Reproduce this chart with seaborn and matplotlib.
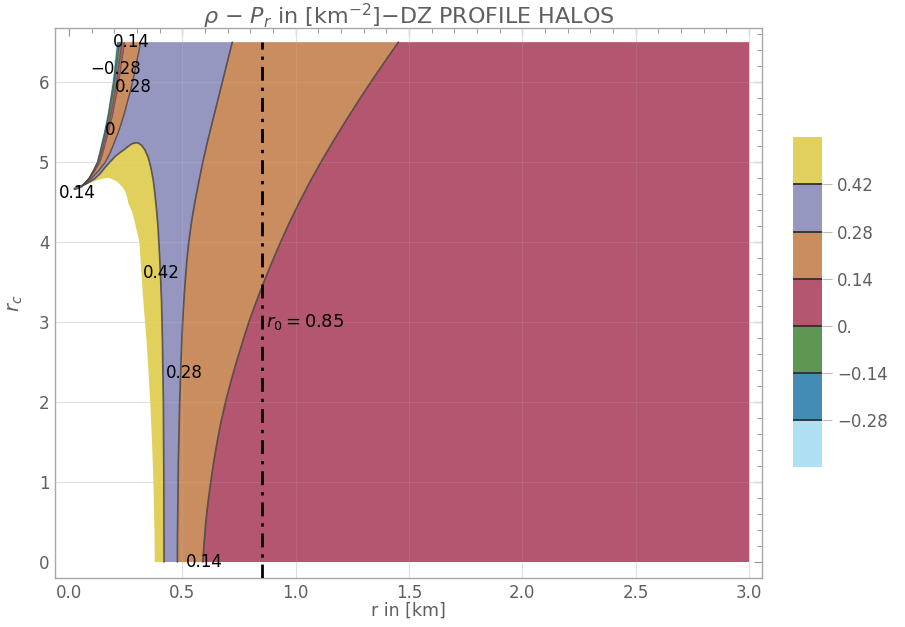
import matplotlib
matplotlib.use("Agg")
import matplotlib as mpl
from matplotlib import pyplot as plt
from matplotlib.colors import ListedColormap, BoundaryNorm
import seaborn as sns

# contour levels and band colours (low -> high)
levels = [-0.42, -0.28, -0.14, 0.0, 0.14, 0.28, 0.42, 0.56]
band_colors = ["#AFDFF3", "#438CB5", "#5E9653", "#B4566F", "#C98D60", "#9597C1", "#E1D05B"]
cbar_ticks = [-0.28, -0.14, 0.0, 0.14, 0.28, 0.42]
cbar_labels = ["\u22120.28", "\u22120.14", "0.", "0.14", "0.28", "0.42"]
r0 = 0.85

# main contours: r (km) against r_c
rc_main = [0, 0.25, 0.5, 0.75, 1.0, 1.25, 1.5, 1.75, 2.0, 2.25, 2.5, 2.75, 3.0, 3.25,
           3.5, 3.75, 4.0, 4.25, 4.5, 4.75, 5.0, 5.25, 5.5, 5.75, 6.0, 6.25, 6.5]
r_c014 = [0.59, 0.596, 0.603, 0.613, 0.625, 0.638, 0.653, 0.67, 0.69, 0.713, 0.738, 0.765, 0.793, 0.825,
          0.859, 0.895, 0.933, 0.973, 1.016, 1.062, 1.111, 1.163, 1.217, 1.273, 1.331, 1.391, 1.453]
r_c028 = [0.478, 0.478, 0.479, 0.48, 0.481, 0.482, 0.484, 0.486, 0.488, 0.491, 0.494, 0.497, 0.501, 0.506,
          0.512, 0.519, 0.528, 0.54, 0.555, 0.572, 0.59, 0.61, 0.632, 0.654, 0.676, 0.698, 0.72]

# 0.42 contour: up the right side to the tip, then down to the pinch point
c042_r = [0.419, 0.418, 0.416, 0.412, 0.408, 0.403, 0.398, 0.392, 0.386, 0.379, 0.371, 0.361,
          0.349, 0.335, 0.32, 0.305, 0.292, 0.278, 0.262, 0.245, 0.225, 0.203, 0.18, 0.158,
          0.135, 0.112, 0.09, 0.07, 0.055]
c042_rc = [0, 1, 2, 2.75, 3.25, 3.6, 3.9, 4.2, 4.4, 4.6, 4.78, 4.93,
           5.06, 5.15, 5.21, 5.24, 5.24, 5.23, 5.2, 5.16, 5.12, 5.07, 5.0, 4.93,
           4.85, 4.79, 4.75, 4.72, 4.70]

# white edge left of the yellow band (pinch point -> bottom)
edge_low_r = [0.055, 0.08, 0.10, 0.13, 0.16, 0.18, 0.195, 0.21, 0.225, 0.24, 0.25, 0.257, 0.262,
              0.27, 0.278, 0.284, 0.292, 0.298, 0.305, 0.31, 0.316, 0.322, 0.328, 0.335, 0.342,
              0.348, 0.353, 0.358, 0.362, 0.366, 0.369, 0.372, 0.375, 0.377, 0.378]
edge_low_rc = [4.70, 4.73, 4.75, 4.78, 4.80, 4.80, 4.78, 4.76, 4.72, 4.67, 4.62, 4.55, 4.48,
               4.43, 4.38, 4.32, 4.22, 4.15, 4.07, 4.0, 3.75, 3.5, 3.25, 3.0, 2.75,
               2.5, 2.25, 2.0, 1.75, 1.5, 1.25, 1.0, 0.6, 0.3, 0]

# thin bands in the top-left corner
rc_top = [4.70, 4.75, 4.8, 4.9, 5.0, 5.12, 5.25, 5.37, 5.5, 5.62, 5.75, 5.87, 6.0, 6.12, 6.25, 6.37, 6.5]
r_edge_top = [0.055, 0.072, 0.086, 0.106, 0.122, 0.133, 0.143, 0.153, 0.162, 0.17, 0.177, 0.184,
              0.19, 0.195, 0.20, 0.205, 0.21]
r_m028_top = [0.055, 0.072, 0.087, 0.107, 0.124, 0.135, 0.146, 0.156, 0.166, 0.174, 0.181, 0.188,
              0.195, 0.20, 0.205, 0.21, 0.214]
r_m014_top = [0.055, 0.073, 0.088, 0.109, 0.127, 0.138, 0.149, 0.16, 0.170, 0.178, 0.186, 0.193,
              0.200, 0.206, 0.211, 0.217, 0.222]
r_000_top = [0.055, 0.074, 0.090, 0.112, 0.131, 0.143, 0.155, 0.166, 0.177, 0.186, 0.194, 0.202,
             0.209, 0.215, 0.221, 0.227, 0.232]
r_014_top = [0.055, 0.075, 0.092, 0.116, 0.137, 0.15, 0.162, 0.174, 0.185, 0.195, 0.203, 0.212,
             0.220, 0.226, 0.232, 0.239, 0.245]
r_028_top = [0.055, 0.08, 0.10, 0.132, 0.16, 0.182, 0.20, 0.217, 0.232, 0.245, 0.257, 0.269,
             0.28, 0.289, 0.298, 0.307, 0.315]
pinch_r = [0.025, 0.055]
pinch_rc = [4.665, 4.70]

# contour labels
lab_text = ["0.14", "\u22120.28", "0.28", "0", "0.14", "0.42", "0.28", "0.14"]
lab_r = [0.274, 0.207, 0.282, 0.181, 0.035, 0.406, 0.507, 0.596]
lab_rc = [6.5, 6.16, 5.94, 5.4, 4.62, 3.61, 2.36, 0.0]

sns.set_theme(style="white")
plt.rcParams['font.family'] = ['DejaVu Sans']
gray = "#5f5f5f"

fig = plt.figure(figsize=(9.05, 6.27), dpi=100)
ax = fig.add_axes([0.0608, 0.0781, 0.7812, 0.877])
cax = fig.add_axes([0.876, 0.255, 0.032, 0.526])

col = dict(zip(["m042", "m028", "m014", "p000", "p014", "p028", "p042"], band_colors))


def band(xs, ys, c):
    ax.fill(xs, ys, color=c, lw=0, zorder=2)


def cline(xs, ys, lw=1.2):
    sns.lineplot(x=xs, y=ys, sort=False, estimator=None, ax=ax,
                 color="#4a4242", linewidth=lw, alpha=0.85, zorder=3)


# big bands
band(r_c014 + [3.0, 3.0], rc_main + [6.5, 0], col["p000"])
band(r_c014 + r_c028[::-1], rc_main + rc_main[::-1], col["p014"])
band(r_c028 + r_028_top[::-1] + c042_r[::-1], rc_main + rc_top[::-1] + c042_rc[::-1], col["p028"])
band(c042_r + edge_low_r, c042_rc + edge_low_rc, col["p042"])

# top-left thin bands
tops = [r_edge_top, r_m028_top, r_m014_top, r_000_top, r_014_top, r_028_top]
keys = ["m042", "m028", "m014", "p000", "p014"]
for i, k in enumerate(keys):
    band(tops[i] + tops[i + 1][::-1], rc_top + rc_top[::-1], col[k])

# contour lines
cline(r_c014, rc_main)
cline(r_c028, rc_main)
cline(c042_r, c042_rc)
for t in tops[1:-1]:
    cline(t, rc_top, lw=0.6)
cline(r_028_top, rc_top, lw=1.0)
cline(pinch_r, pinch_rc, lw=2.0)

# r0 marker
ax.plot([r0, r0], [-0.2, 6.5], color="black", lw=2, linestyle=(0, (5, 2.5, 1.2, 2.5)), zorder=4)
ax.text(r0 + 0.02, 3.0, r"$r_0 = 0.85$", fontsize=13, color="black", va="center", ha="left", zorder=5)

for t, x, y in zip(lab_text, lab_r, lab_rc):
    ax.text(x, y, t, fontsize=12, color="black", ha="center", va="center", zorder=5)

# grid: light under the white, faint over the colours
for xv in [0.5, 1.0, 1.5, 2.0, 2.5, 3.0]:
    ax.axvline(xv, color="#dddddd", lw=0.8, zorder=1)
    ax.axvline(xv, color="white", lw=0.8, alpha=0.08, zorder=3)
for yv in [1, 2, 3, 4, 5, 6]:
    ax.axhline(yv, color="#dddddd", lw=0.8, zorder=1)
    ax.axhline(yv, color="white", lw=0.8, alpha=0.08, zorder=3)

ax.set_xlim(-0.062, 3.057)
ax.set_ylim(-0.2, 6.675)
ax.set_xticks([0, 0.5, 1.0, 1.5, 2.0, 2.5, 3.0])
ax.set_xticklabels(["0.0", "0.5", "1.0", "1.5", "2.0", "2.5", "3.0"])
ax.set_yticks([0, 1, 2, 3, 4, 5, 6])
ax.set_xticks([i / 10 for i in range(0, 31)], minor=True)
ax.set_yticks([i / 5 for i in range(0, 34)], minor=True)
ax.tick_params(which="both", direction="in", top=True, right=True, color="#9a9a9a",
               labelcolor=gray, labelsize=12)
ax.tick_params(which="major", length=6, width=0.9, pad=4)
ax.tick_params(which="minor", length=3.5, width=0.7)
for s in ax.spines.values():
    s.set_color("#a8a8a8")
    s.set_linewidth(1.0)

ax.set_xlabel("r in [km]", color=gray, fontsize=12.5, labelpad=0)
ax.set_ylabel(r"$r_c$", color=gray, fontsize=14, labelpad=10)
ax.set_title(r"$\rho$ $-$ $P_r$ in [km$^{-2}$]$-$DZ PROFILE HALOS", color=gray, fontsize=16, pad=3)

# legend bar
cmap = ListedColormap(band_colors)
norm = BoundaryNorm(levels, cmap.N)
cb = fig.colorbar(mpl.cm.ScalarMappable(norm=norm, cmap=cmap), cax=cax,
                  boundaries=levels, ticks=cbar_ticks, drawedges=True)
cb.minorticks_off()
cb.outline.set_visible(False)
cb.dividers.set_color("#2f2f2f")
cb.dividers.set_linewidth(1.3)
cb.set_ticklabels(cbar_labels)
cax.tick_params(which="both", length=7, width=0.8, color="#bbbbbb", labelcolor=gray, labelsize=12, pad=4)

fig.savefig("out.png", dpi=100)
